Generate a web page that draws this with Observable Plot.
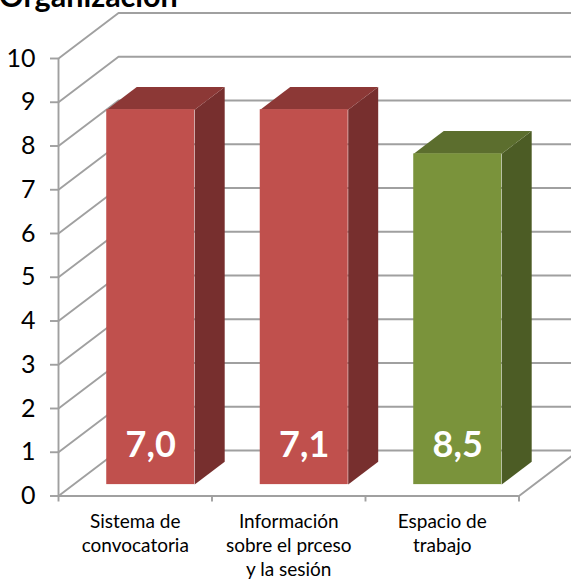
<!DOCTYPE html>
<html lang="es">
<head>
<meta charset="utf-8">
<script src="https://cdn.jsdelivr.net/npm/d3@7"></script>
<script src="https://cdn.jsdelivr.net/npm/@observablehq/plot@0.6"></script>
<style>
  html, body { margin: 0; padding: 0; background: #fff; overflow: hidden; }
  #chart { position: relative; width: 571px; height: 581px; overflow: hidden; }
  #title { position: absolute; left: -1px; top: -22px; font: 700 30.5px/34px Lato, sans-serif; color: #000; z-index: 2; white-space: nowrap; }
</style>
</head>
<body>
<div id="chart"><div id="title">Organización</div></div>
<script>
const categories = ["Sistema de\nconvocatoria", "Información\nsobre el prceso\ny la sesión", "Espacio de\ntrabajo"];
const barHeights = [8.57, 8.57, 7.56];
const valueLabels = ["7,0", "7,1", "8,5"];
const frontColors = ["#c0504d", "#c0504d", "#7a933b"];
const topColors = ["#8c3836", "#8c3836", "#5c6e2e"];
const sideColors = ["#772f2e", "#772f2e", "#4c5c25"];
const yTicks = [0, 1, 2, 3, 4, 5, 6, 7, 8, 9, 10];

// oblique projection of the 3-D box: depth d (0..1) shifts in data units
const depthX = 0.391, depthY = 1.041;
const px = (x, d) => x + d * depthX;
const py = (y, d) => y + d * depthY;
const barWidth = 0.573, d0 = 0.25, d1 = 0.75;
const gridColor = "#a0a0a0";

const sideFaces = [], topFaces = [];
categories.forEach((c, i) => {
  const a = i + (1 - barWidth) / 2 + 0.003, b = a + barWidth, h = barHeights[i];
  [[b, 0, d0], [b, 0, d1], [b, h, d1], [b, h, d0]].forEach(([x, y, d]) =>
    sideFaces.push({ x: px(x, d), y: py(y, d), z: "s" + i, fill: sideColors[i] }));
  [[a, h, d0], [a, h, d1], [b, h, d1], [b, h, d0]].forEach(([x, y, d]) =>
    topFaces.push({ x: px(x, d), y: py(y, d), z: "t" + i, fill: topColors[i] }));
});
const fronts = categories.map((c, i) => {
  const a = i + (1 - barWidth) / 2 + 0.003;
  return { x1: px(a, d0), x2: px(a + barWidth, d0), y1: py(0, d0), y2: py(barHeights[i], d0), fill: frontColors[i], label: valueLabels[i] };
});

// walls: side-wall segments and back-wall lines
const wall = [];
yTicks.forEach(t => {
  wall.push({ x: px(0, 0), y: py(t, 0), z: "w" + t }, { x: px(0, 1), y: py(t, 1), z: "w" + t }, { x: px(3, 1), y: py(t, 1), z: "w" + t });
});
const floorEdge = [{ x: px(3, 0), y: py(0, 0) }, { x: px(3, 1), y: py(0, 1) }];

const chart = Plot.plot({
  width: 571, height: 581,
  marginLeft: 58, marginRight: 52.5, marginTop: 58, marginBottom: 85.5,
  style: { background: "#fff", color: "#000", display: "block" },
  x: { domain: [0, 3], axis: null },
  y: { domain: [0, 10], axis: null },
  marks: [
    Plot.line(wall, { x: "x", y: "y", z: "z", stroke: gridColor, strokeWidth: 1.9 }),
    Plot.line(floorEdge, { x: "x", y: "y", stroke: gridColor, strokeWidth: 1.9 }),
    Plot.ruleX([0], { y1: 0, y2: 10, stroke: gridColor, strokeWidth: 1.9 }),
    Plot.ruleY([0], { x1: 0, x2: 3, stroke: gridColor, strokeWidth: 1.9 }),
    Plot.axisY({ ticks: yTicks, tickSize: 8, tickPadding: 15, stroke: gridColor, strokeWidth: 1.9, fontSize: 25, fontFamily: "Lato, sans-serif", fill: "#000", label: null, tickFormat: d => String(d) }),
    Plot.axisX({ ticks: [0, 1, 2, 3], tickSize: 6, stroke: gridColor, strokeWidth: 1.9, tickFormat: () => "", label: null }),
    Plot.line(sideFaces, { x: "x", y: "y", z: "z", fill: "fill", stroke: null }),
    Plot.line(topFaces, { x: "x", y: "y", z: "z", fill: "fill", stroke: null }),
    Plot.rect(fronts, { x1: "x1", x2: "x2", y1: "y1", y2: "y2", fill: "fill" }),
    Plot.text(fronts, { x: d => (d.x1 + d.x2) / 2, y: "y1", dy: -39, text: "label", fill: "#fff", fontWeight: 700, fontSize: 36, fontFamily: "Lato, sans-serif" }),
    Plot.text(categories, { x: (d, i) => i + 0.5, y: () => 0, dy: 15, text: d => d, lineAnchor: "top", lineHeight: 1.26, fontSize: 19, fontFamily: "Lato, sans-serif", fill: "#000" })
  ]
});
document.getElementById("chart").appendChild(chart);
</script>
</body>
</html>
